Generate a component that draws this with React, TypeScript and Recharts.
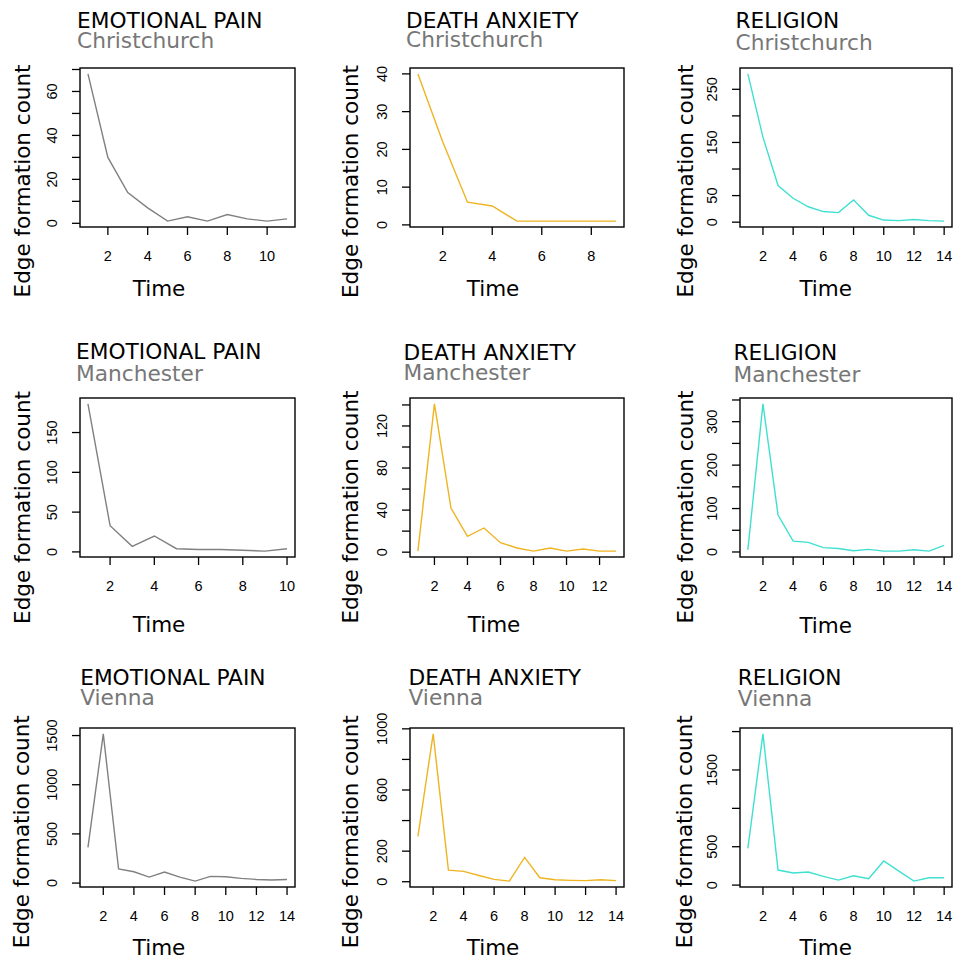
import { LineChart, Line, XAxis, YAxis } from "recharts"

const topics = ["EMOTIONAL PAIN", "DEATH ANXIETY", "RELIGION"]
const cities = ["Christchurch", "Manchester", "Vienna"]
const topicColors = ["#808080", "#EEB422", "#40E0D0"]

// edge formation counts per time step
const emotionalPainChristchurch = [68, 30, 14, 7, 1, 3, 1, 4, 2, 1, 2]
const deathAnxietyChristchurch = [40, 22, 6, 5, 1, 1, 1, 1, 1]
const religionChristchurch = [279, 160, 69, 45, 29, 20, 18, 42, 13, 4, 3, 5, 3, 2]
const emotionalPainManchester = [186, 33, 7, 20, 4, 3, 3, 2, 1, 4]
const deathAnxietyManchester = [1, 141, 42, 15, 23, 9, 4, 1, 4, 1, 3, 1, 1]
const religionManchester = [5, 341, 85, 25, 22, 10, 8, 3, 6, 2, 2, 5, 2, 15]
const emotionalPainVienna = [363, 1517, 143, 115, 61, 112, 61, 20, 68, 64, 48, 37, 31, 37]
const deathAnxietyVienna = [297, 967, 76, 68, 41, 15, 4, 159, 26, 13, 9, 7, 13, 7]
const religionVienna = [479, 1970, 196, 157, 170, 113, 65, 122, 83, 314, 183, 52, 96, 96]

// axis ticks; only some y ticks carry a label
const xTicks9 = [2, 4, 6, 8]
const xTicks10 = [2, 4, 6, 8, 10]
const xTicks12 = [2, 4, 6, 8, 10, 12]
const xTicks14 = [2, 4, 6, 8, 10, 12, 14]
const yTicksEPC = [0, 10, 20, 30, 40, 50, 60, 70]
const yLabelsEPC = [0, 20, 40, 60]
const yTicksDAC = [0, 10, 20, 30, 40]
const yLabelsDAC = [0, 10, 20, 30, 40]
const yTicksRC = [0, 50, 100, 150, 200, 250]
const yLabelsRC = [0, 50, 150, 250]
const yTicksEPM = [0, 50, 100, 150]
const yLabelsEPM = [0, 50, 100, 150]
const yTicksDAM = [0, 20, 40, 60, 80, 100, 120, 140]
const yLabelsDAM = [0, 40, 80, 120]
const yTicksRM = [0, 50, 100, 150, 200, 250, 300, 350]
const yLabelsRM = [0, 100, 200, 300]
const yTicksEPV = [0, 500, 1000, 1500]
const yLabelsEPV = [0, 500, 1000, 1500]
const yTicksDAV = [0, 200, 400, 600, 800, 1000]
const yLabelsDAV = [0, 200, 600, 1000]
const yTicksRV = [0, 500, 1000, 1500, 2000]
const yLabelsRV = [0, 500, 1500]

const panels = [
  { topic: 0, city: 0, values: emotionalPainChristchurch, xTicks: xTicks10, yTicks: yTicksEPC, yLabels: yLabelsEPC },
  { topic: 1, city: 0, values: deathAnxietyChristchurch, xTicks: xTicks9, yTicks: yTicksDAC, yLabels: yLabelsDAC },
  { topic: 2, city: 0, values: religionChristchurch, xTicks: xTicks14, yTicks: yTicksRC, yLabels: yLabelsRC },
  { topic: 0, city: 1, values: emotionalPainManchester, xTicks: xTicks10, yTicks: yTicksEPM, yLabels: yLabelsEPM },
  { topic: 1, city: 1, values: deathAnxietyManchester, xTicks: xTicks12, yTicks: yTicksDAM, yLabels: yLabelsDAM },
  { topic: 2, city: 1, values: religionManchester, xTicks: xTicks14, yTicks: yTicksRM, yLabels: yLabelsRM },
  { topic: 0, city: 2, values: emotionalPainVienna, xTicks: xTicks14, yTicks: yTicksEPV, yLabels: yLabelsEPV },
  { topic: 1, city: 2, values: deathAnxietyVienna, xTicks: xTicks14, yTicks: yTicksDAV, yLabels: yLabelsDAV },
  { topic: 2, city: 2, values: religionVienna, xTicks: xTicks14, yTicks: yTicksRV, yLabels: yLabelsRV },
]

// plot box and text positions for each panel
const layout = [
  { l: 80, t: 68, r: 295, b: 227, tx: 77, ty: 27.7, sy: 48.3, timeX: 159, timeY: 295.5, labX: 29.5, labY: 181 },
  { l: 410, t: 68, r: 624, b: 227, tx: 406, ty: 27.7, sy: 47.3, timeX: 493, timeY: 295.5, labX: 358.2, labY: 181.5 },
  { l: 740, t: 68, r: 952, b: 227, tx: 735.5, ty: 27.7, sy: 49.5, timeX: 825.7, timeY: 295.5, labX: 692.5, labY: 181 },
  { l: 80, t: 398, r: 295, b: 557, tx: 76, ty: 359.3, sy: 380.7, timeX: 159, timeY: 632, labX: 29.5, labY: 507.5 },
  { l: 410, t: 398, r: 624, b: 557, tx: 403.5, ty: 360, sy: 380, timeX: 494, timeY: 632, labX: 358.2, labY: 507 },
  { l: 740, t: 398, r: 952, b: 557, tx: 733.5, ty: 360, sy: 381.7, timeX: 825.7, timeY: 633, labX: 692.5, labY: 507 },
  { l: 80, t: 728, r: 295, b: 887, tx: 80.2, ty: 685, sy: 705, timeX: 159, timeY: 955, labX: 29.5, labY: 831.7 },
  { l: 410, t: 728, r: 624, b: 887, tx: 408.5, ty: 685, sy: 705, timeX: 493, timeY: 955, labX: 358.2, labY: 831.7 },
  { l: 740, t: 728, r: 952, b: 887, tx: 737.8, ty: 685, sy: 705.7, timeX: 825.7, timeY: 955, labX: 692.5, labY: 831.7 },
]

const sans = "'DejaVu Sans', Verdana, sans-serif"
const tickFont = "'Liberation Sans', Arial, Helvetica, sans-serif"
const PAD_TOP = 30
const Y_W = 80
const X_H = 50

// R-style axis range: data range widened by 4% on each side
const rRange = (vals: number[]): [number, number] => {
  const lo = Math.min(...vals)
  const hi = Math.max(...vals)
  const d = (hi - lo) * 0.04
  return [lo - d, hi + d]
}

const YTick = (props: any) => {
  const { x, y, payload, labels } = props
  if (!labels.includes(payload.value)) return null
  const cx = x - 12.5
  return (
    <text x={cx} y={y} transform={`rotate(-90 ${cx} ${y})`} textAnchor="middle"
      fontSize={14.5} fontFamily={tickFont} fill="#000">
      {payload.value}
    </text>
  )
}

const XTick = (props: any) => {
  const { x, y, payload } = props
  return (
    <text x={x} y={y + 23.5} textAnchor="middle" fontSize={14.5} fontFamily={tickFont} fill="#000">
      {payload.value}
    </text>
  )
}

const Panel = ({ index }: { index: number }) => {
  const p = panels[index]
  const box = layout[index]
  const data = p.values.map((v, i) => ({ time: i + 1, count: v }))
  const times = data.map(d => d.time)
  const bw = box.r - box.l
  const bh = box.b - box.t
  return (
    <div style={{ position: "absolute", left: box.l - Y_W, top: box.t - PAD_TOP }}>
      <LineChart width={bw + Y_W + 4} height={bh + PAD_TOP + X_H} data={data}
        margin={{ top: PAD_TOP, right: 4, left: 0, bottom: 0 }}>
        <XAxis dataKey="time" type="number" domain={rRange(times)} allowDataOverflow
          ticks={p.xTicks} interval={0} axisLine={false} tickSize={8} tickMargin={2}
          tickLine={{ stroke: "#000", strokeWidth: 1.3 }} tick={<XTick />} height={X_H} />
        <YAxis type="number" domain={rRange(p.values)} allowDataOverflow
          ticks={p.yTicks} interval={0} axisLine={false} tickSize={8} tickMargin={2}
          tickLine={{ stroke: "#000", strokeWidth: 1.3 }} tick={<YTick labels={p.yLabels} />} width={Y_W} />
        <Line type="linear" dataKey="count" stroke={topicColors[p.topic]} strokeWidth={1.4}
          dot={false} activeDot={false} isAnimationActive={false} />
      </LineChart>
    </div>
  )
}

export default function App() {
  return (
    <div style={{ position: "relative", width: 956, height: 959, background: "#fff", overflow: "hidden" }}>
      <style>{"body{margin:0}"}</style>
      {panels.map((_, i) => <Panel key={i} index={i} />)}
      <svg width={956} height={959} style={{ position: "absolute", left: 0, top: 0, pointerEvents: "none" }}>
        {panels.map((p, i) => {
          const b = layout[i]
          return (
            <g key={i}>
              <rect x={b.l} y={b.t} width={b.r - b.l} height={b.b - b.t} fill="none" stroke="#000" strokeWidth={1.4} />
              <text x={b.tx} y={b.ty} fontSize={21.7} fontFamily={sans} fill="#000">{topics[p.topic]}</text>
              <text x={b.tx} y={b.sy} fontSize={21.7} fontFamily={sans} fill="#777777">{cities[p.city]}</text>
              <text x={b.timeX} y={b.timeY} textAnchor="middle" fontSize={21.5} fontFamily={sans} fill="#000">Time</text>
              <text x={b.labX} y={b.labY} transform={`rotate(-90 ${b.labX} ${b.labY})`} textAnchor="middle"
                fontSize={21.5} fontFamily={sans} fill="#000">Edge formation count</text>
            </g>
          )
        })}
      </svg>
    </div>
  )
}
